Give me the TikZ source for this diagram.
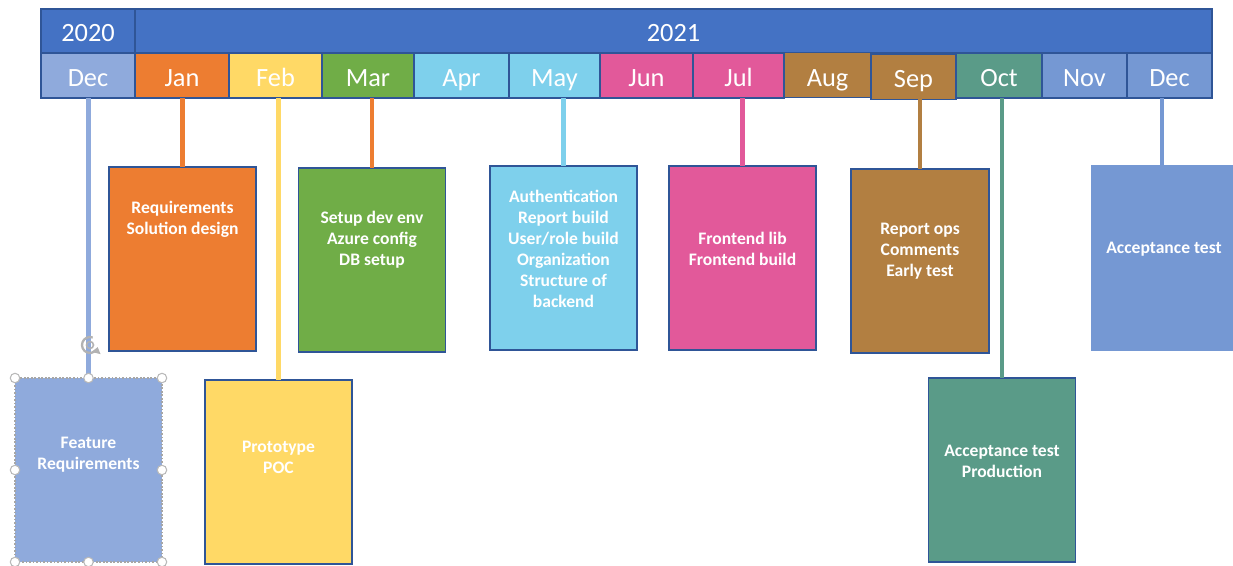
\documentclass[tikz,border=0pt]{standalone}
\usepackage{fontspec}
\setmainfont{Carlito}
\usetikzlibrary{arrows.meta}

\definecolor{frame}{HTML}{2F5597}
\definecolor{year}{HTML}{4472C4}
\definecolor{dec0}{HTML}{8FAADC}
\definecolor{jan}{HTML}{ED7D31}
\definecolor{feb}{HTML}{FFD966}
\definecolor{mar}{HTML}{70AD47}
\definecolor{spring}{HTML}{7ED0EC}
\definecolor{summer}{HTML}{E2599A}
\definecolor{autumn}{HTML}{B27F41}
\definecolor{oct}{HTML}{5A9B88}
\definecolor{winter}{HTML}{7598D3}

\begin{document}
\begin{tikzpicture}[
  x=0.02cm, y=-0.02cm,
  every node/.style={inner sep=0pt, outer sep=0pt},
  yearcell/.style={draw=frame, fill=year, line width=1pt, minimum height=0.88cm,
    text=white, text height=12pt, text depth=0pt, font=\fontsize{15}{18}\selectfont},
  month/.style={draw=frame, line width=1pt, minimum height=0.9cm,
    text=white, text height=12.6pt, text depth=0pt, font=\fontsize{15}{18}\selectfont},
  task/.style={draw=frame, line width=1pt, minimum width=2.94cm, minimum height=3.68cm},
  tasktext/.style={text=white, align=center, font=\bfseries\fontsize{10}{12}\selectfont},
  stem/.style={line width=2.5pt},
  handle/.style={circle, draw=gray!55, fill=white, line width=0.6pt, minimum size=0.19cm},
  rotor/.style={draw=gray!60, line width=1.3pt},
]
\useasboundingbox (0,0) rectangle (1233,565);

% year bar
\node[yearcell, minimum width=1.88cm] (y2020) at (88,31) {2020};
\node[yearcell, minimum width=21.54cm] (y2021) at (673.5,31) {2021};

% month row
\node[month, fill=dec0, minimum width=1.88cm] (m-dec0) at (88,75.5) {Dec};
\node[month, fill=jan, minimum width=1.88cm] (m-jan) at (182,75.5) {Jan};
\node[month, fill=feb, minimum width=1.86cm] (m-feb) at (275.5,75.5) {Feb};
\node[month, fill=mar, minimum width=1.84cm] (m-mar) at (368,75.5) {Mar};
\node[month, fill=spring, minimum width=1.90cm] (m-apr) at (461.5,75.5) {Apr};
\node[month, fill=spring, minimum width=1.82cm] (m-may) at (554.5,75.5) {May};
\node[month, fill=summer, minimum width=1.86cm] (m-jun) at (646.5,75.5) {Jun};
\node[month, fill=summer, minimum width=1.82cm] (m-jul) at (738.5,75.5) {Jul};
\node[month, fill=autumn, minimum width=1.74cm] (m-aug) at (827.5,75) {Aug};
\node[month, fill=autumn, minimum width=1.70cm, text height=11.8pt] (m-sep) at (913.5,77) {Sep};
\node[month, fill=oct, minimum width=1.72cm] (m-oct) at (999,75.5) {Oct};
\node[month, fill=winter, minimum width=1.70cm] (m-nov) at (1084.5,75.5) {Nov};
\node[month, fill=winter, minimum width=1.70cm] (m-dec) at (1169.5,75.5) {Dec};

% task boxes
\node[task, fill=dec0, draw=gray!70, densely dotted, line width=0.6pt] (b-dec0) at (88.5,470) {};
\node[task, fill=jan] (b-jan) at (182.5,259) {};
\node[task, fill=feb] (b-feb) at (278.5,472) {};
\node[task, fill=mar] (b-mar) at (372,260) {};
\node[task, fill=spring] (b-may) at (563.5,258) {};
\node[task, fill=summer] (b-jul) at (742.5,258) {};
\node[task, fill=autumn, minimum width=2.76cm] (b-sep) at (920,261) {};
\node[task, fill=oct] (b-oct) at (1002,470) {};
\node[task, fill=winter, draw=none, minimum width=2.84cm, minimum height=3.72cm] (b-dec) at (1162,258) {};

\node[tasktext] (t-dec0) at (88.5,455) {Feature\\Requirements};
\node[tasktext] (t-jan) at (182.5,219) {Requirements\\Solution design};
\node[tasktext] (t-feb) at (278.5,457) {Prototype\\POC};
\node[tasktext] (t-mar) at (372,240) {Setup dev env\\Azure config\\DB setup};
\node[tasktext] (t-may) at (563.5,249) {Authentication\\Report build\\User/role build\\Organization\\Structure of\\backend};
\node[tasktext] (t-jul) at (742.5,249) {Frontend lib\\Frontend build};
\node[tasktext] (t-sep) at (920,251) {Report ops\\Comments\\Early test};
\node[tasktext] (t-oct) at (1002,461) {Acceptance test\\Production};
\node[tasktext] (t-dec) at (1164,249) {Acceptance test};

% stems from the month row down to the boxes
\draw[stem, draw=dec0] (b-dec0.north) -- (b-dec0.north |- m-dec0.south);
\draw[stem, draw=jan] (b-jan.north) -- (b-jan.north |- m-jan.south);
\draw[stem, draw=feb] (b-feb.north) -- (b-feb.north |- m-feb.south);
\draw[stem, draw=jan] (b-mar.north) -- (b-mar.north |- m-mar.south);
\draw[stem, draw=spring] (b-may.north) -- (b-may.north |- m-may.south);
\draw[stem, draw=summer] (b-jul.north) -- (b-jul.north |- m-jul.south);
\draw[stem, draw=autumn] (b-sep.north) -- (b-sep.north |- m-sep.south);
\draw[stem, draw=oct] (b-oct.north) -- (b-oct.north |- m-oct.south);
\draw[stem, draw=winter] (b-dec.north) -- (b-dec.north |- m-dec.south);

% selection handles
\node[handle] at (b-dec0.north west) {};
\node[handle] at (b-dec0.north) {};
\node[handle] at (b-dec0.north east) {};
\node[handle] at (b-dec0.east) {};
\node[handle] at (b-dec0.south east) {};
\node[handle] at (b-dec0.south) {};
\node[handle] at (b-dec0.south west) {};
\node[handle] at (b-dec0.west) {};
\coordinate (rot) at (90,345);
\draw[rotor, -{Triangle[length=3.5pt,width=5pt]}] ([shift={(70:0.16cm)}]rot)
  arc[start angle=70, end angle=345, radius=0.16cm];
\draw[rotor, line width=0.9pt] (rot) circle[radius=0.07cm];
\end{tikzpicture}
\end{document}
